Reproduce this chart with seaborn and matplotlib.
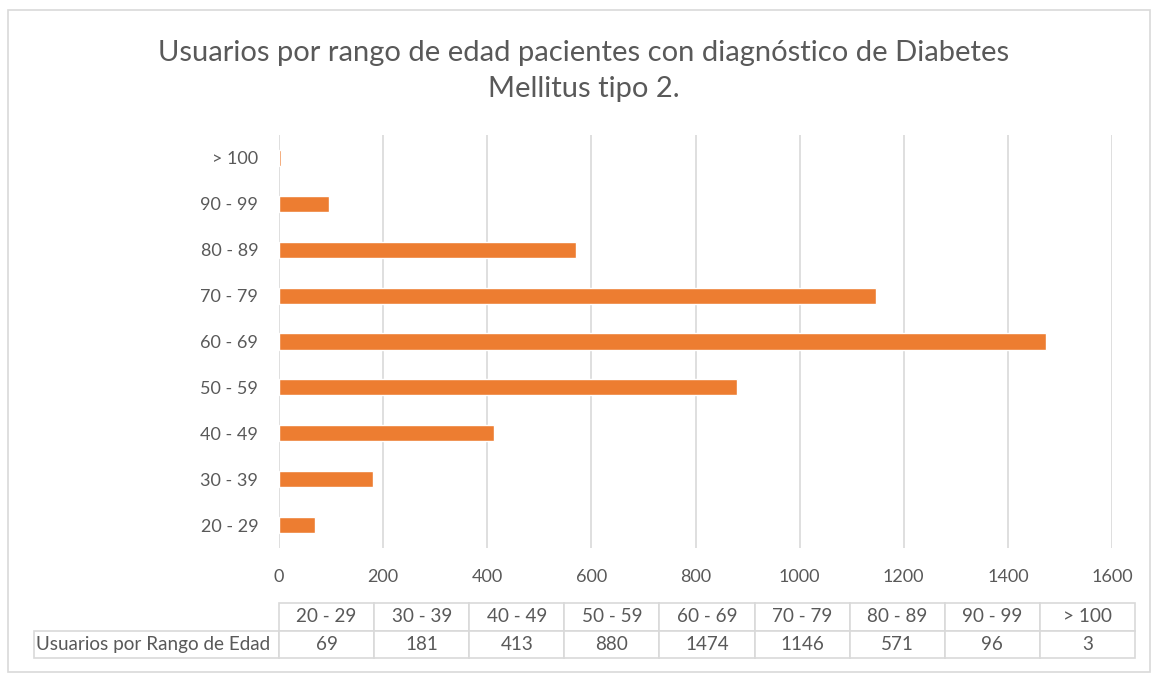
import matplotlib
matplotlib.use("Agg")
import seaborn as sns
import matplotlib.pyplot as plt
from matplotlib.patches import Rectangle

# Datos del gráfico
rangos = ["20 - 29", "30 - 39", "40 - 49", "50 - 59", "60 - 69",
          "70 - 79", "80 - 89", "90 - 99", "> 100"]
usuarios = [69, 181, 413, 880, 1474, 1146, 571, 96, 3]
serie = "Usuarios por Rango de Edad"
ticks_x = [0, 200, 400, 600, 800, 1000, 1200, 1400, 1600]

sns.set_style("white")
plt.rcParams["font.family"] = ["Lato", "DejaVu Sans"]

gris_texto = "#595959"
gris_linea = "#D9D9D9"
naranja = "#ED7D31"

W, H = 1158, 681
fig = plt.figure(figsize=(W / 100, H / 100), dpi=100)

# Marco del gráfico
fig.patches.append(Rectangle((8 / W, 1 - 672 / H), (1150 - 8) / W, (672 - 10) / H,
                             transform=fig.transFigure, fill=False,
                             edgecolor=gris_linea, linewidth=1.2))

ax = fig.add_axes([279 / W, 1 - 548 / H, (1112 - 279) / W, (548 - 135) / H])
sns.barplot(x=usuarios, y=rangos, order=rangos[::-1], color=naranja,
            width=0.35, saturation=1, ax=ax)

ax.set_xlim(0, 1600)
ax.set_xticks(ticks_x)
ax.grid(axis="x", color=gris_linea, linewidth=1.2)
ax.set_axisbelow(True)
for s in ax.spines.values():
    s.set_visible(False)
ax.tick_params(axis="both", length=0, labelsize=13, labelcolor=gris_texto)
ax.tick_params(axis="y", pad=15)
ax.tick_params(axis="x", pad=15)
ax.set_xlabel("")
ax.set_ylabel("")

fig.text(584 / W, 1 - 71 / H,
         "Usuarios por rango de edad pacientes con diagnóstico de Diabetes\nMellitus tipo 2.",
         ha="center", va="center", fontsize=21, color=gris_texto, linespacing=1.45)

# Tabla de datos
tax = fig.add_axes([34 / W, 1 - 658 / H, (1135 - 34) / W, (658 - 603) / H])
tax.axis("off")
celdas = [[""] + rangos, [serie] + [str(v) for v in usuarios]]
anchos = [245] + [95.1] * len(rangos)
tabla = tax.table(cellText=celdas, colWidths=[a / sum(anchos) for a in anchos],
                  cellLoc="center", bbox=[0, 0, 1, 1])
tabla.auto_set_font_size(False)
for (r, c), cel in tabla.get_celld().items():
    cel.set_edgecolor(gris_linea)
    cel.set_linewidth(1.2)
    cel.get_text().set_color(gris_texto)
    cel.get_text().set_fontsize(13.6)
    if r == 0 and c == 0:
        cel.visible_edges = ""
    if r == 1 and c == 0:
        cel.get_text().set_ha("left")
        cel.PAD = 0.01

fig.savefig("out.png", dpi=100)
